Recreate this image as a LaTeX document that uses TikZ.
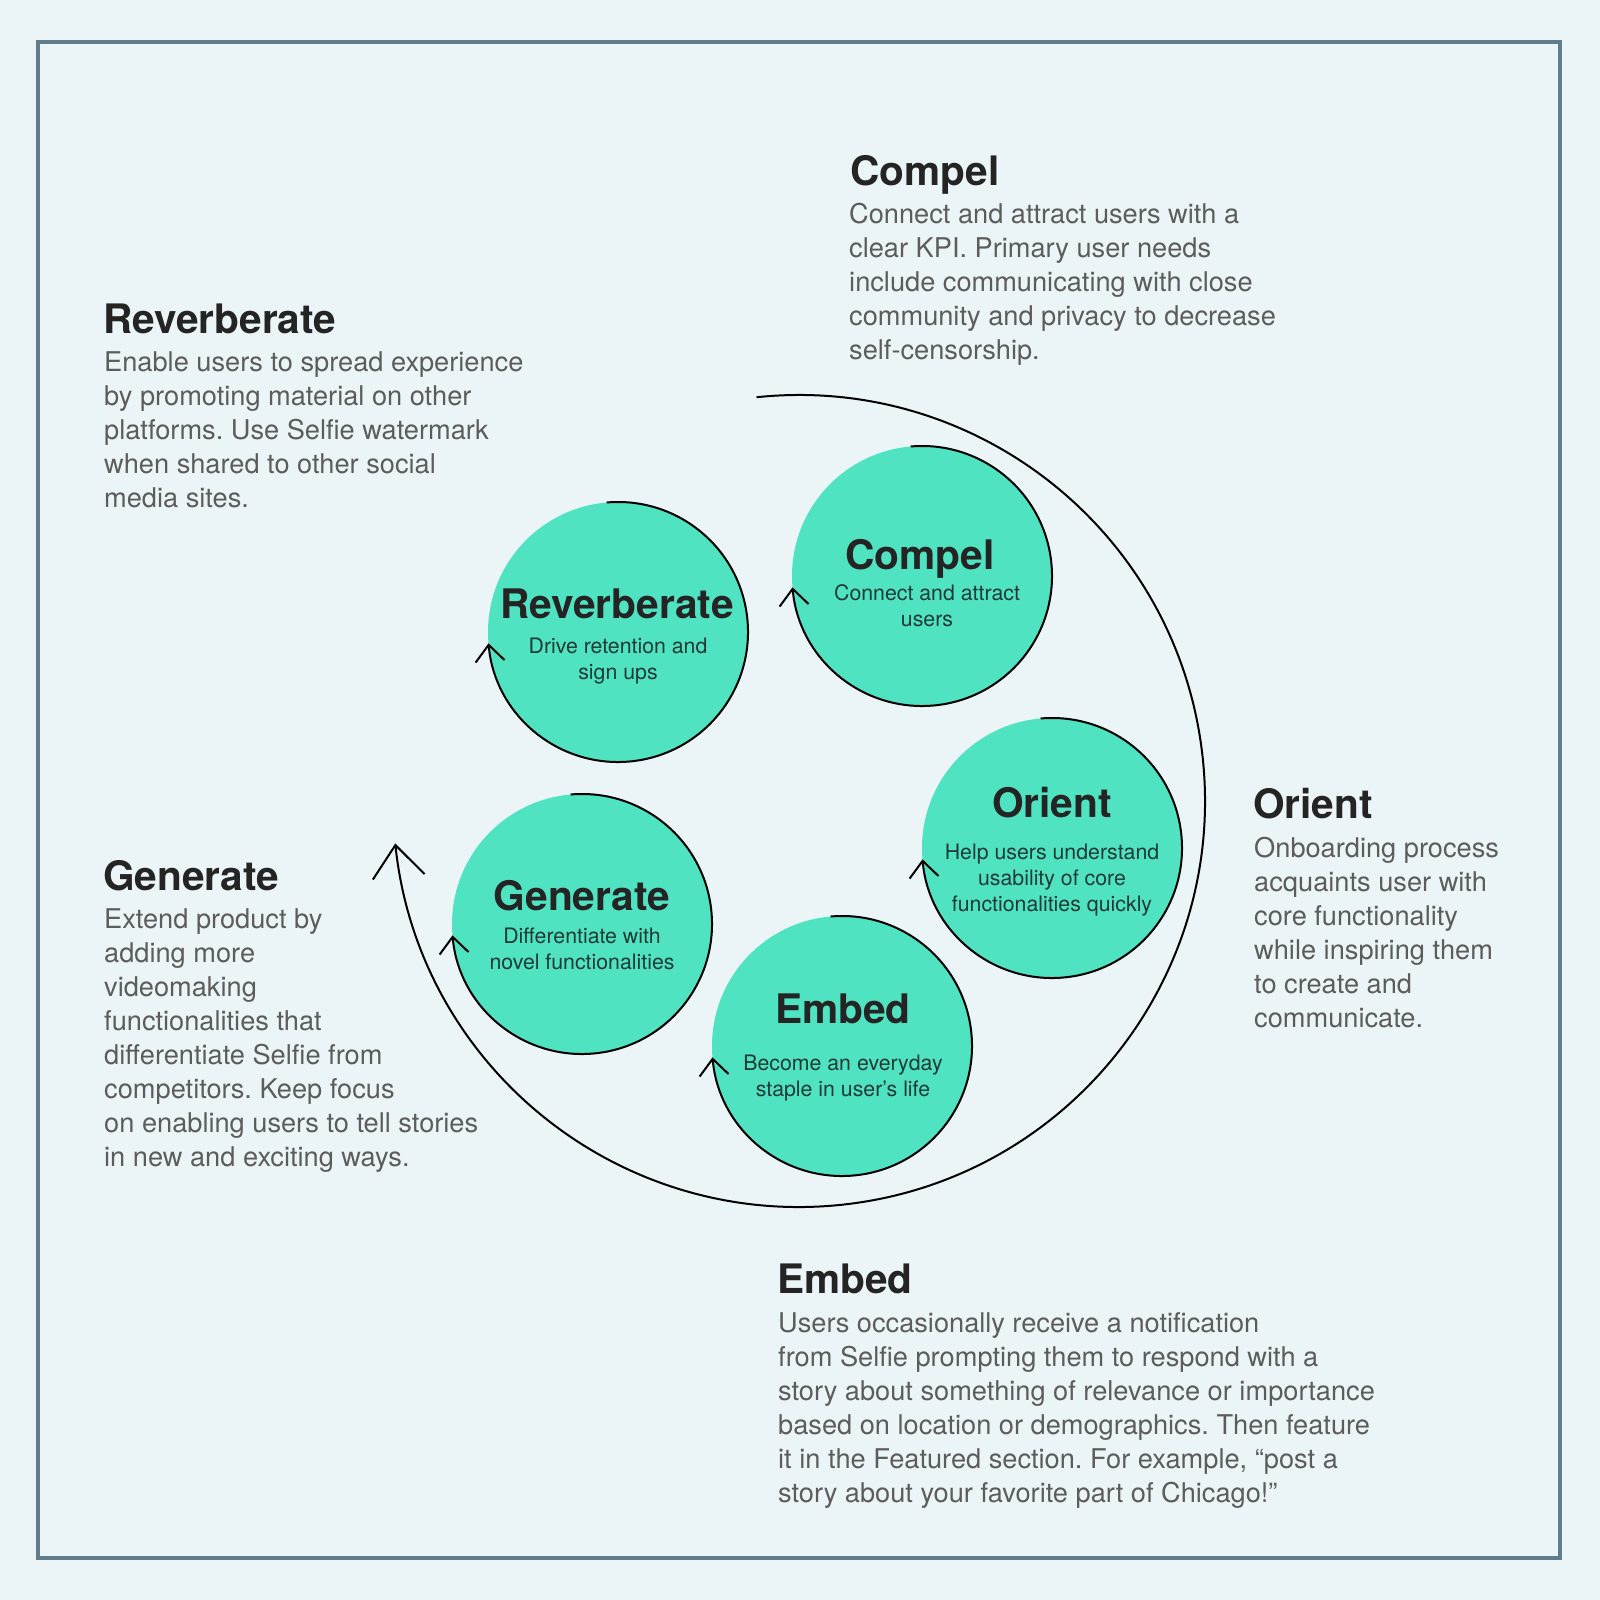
\documentclass[tikz,border=0pt]{standalone}
\usepackage{fontspec}
\setmainfont{TeX Gyre Heros}
\usetikzlibrary{arrows.meta}

\definecolor{bgpaper}{RGB}{235,244,247}
\definecolor{frameline}{RGB}{96,125,140}
\definecolor{mint}{RGB}{80,227,194}
\definecolor{ink}{RGB}{36,36,36}
\definecolor{prose}{RGB}{92,92,92}
\definecolor{deepteal}{RGB}{30,58,52}

\frenchspacing
\begin{document}
\begin{tikzpicture}[x=1pt,y=-1pt,
  stage/.style={circle, fill=mint, minimum size=260pt, inner sep=0pt, outer sep=0pt},
  ringarrow/.style={line width=2pt, draw=black, -{Straight Barb[length=16.5pt,width=29pt]}},
  bigring/.style={line width=2pt, draw=black, -{Straight Barb[length=32pt,width=52pt]}},
  stagetitle/.style={anchor=base, inner sep=0pt, text=ink, font=\fontsize{40.7}{48}\selectfont\bfseries},
  stagenote/.style={anchor=north, align=center, inner sep=0pt, text=deepteal, font=\fontsize{21.3}{26}\selectfont},
  sidetitle/.style={anchor=base west, inner sep=0pt, text=ink, font=\fontsize{40.6}{48}\selectfont\bfseries},
  sidenote/.style={anchor=north west, align=left, inner sep=0pt, text=prose, font=\fontsize{27.2}{34}\selectfont},
]
% page and frame
\useasboundingbox (0,0) rectangle (1600,1600);
\fill[bgpaper] (0,0) rectangle (1600,1600);
\draw[frameline, line width=4pt] (38,42) rectangle (1560,1558);

% stage discs
\node[stage] (reverb) at (618,632) {};
\node[stage] (compel) at (922,576) {};
\node[stage] (orient) at (1052,848) {};
\node[stage] (embed) at (842,1046) {};
\node[stage] (generate) at (582,924) {};
\coordinate (hub) at (799,801);

% three-quarter rings with arrowheads on each disc
\foreach \c in {reverb,compel,orient,embed,generate}{
  \draw[ringarrow] ([shift={(-95:130)}]\c.center) arc[start angle=-95, end angle=175, radius=130];
}

% large outer ring
\draw[bigring] ([shift={(-96:406)}]hub) arc[start angle=-96, end angle=174, radius=406];

% disc labels
\node[stagetitle] (reverbT) at (617,618) {Reverberate};
\node[stagenote] (reverbN) at (618,634.8) {\strut Drive retention and\\ sign ups};

\node[stagetitle] (compelT) at (920,569) {Compel};
\node[stagenote] (compelN) at (927,581.8) {\strut Connect and attract\\ users};

\node[stagetitle] (orientT) at (1052,817) {Orient};
\node[stagenote] (orientN) at (1052,840.8) {\strut Help users understand\\ usability of core\\ functionalities quickly};

\node[stagetitle] (embedT) at (843,1023) {Embed};
\node[stagenote] (embedN) at (843,1051.8) {\strut Become an everyday\\ staple in user’s life};

\node[stagetitle] (generateT) at (582,910) {Generate};
\node[stagenote] (generateN) at (582,924.8) {\strut Differentiate with\\ novel functionalities};

% side descriptions
\node[sidetitle] (compelH) at (850,185) {Compel};
\node[sidenote] (compelD) at (849,199.2) {\strut Connect and attract users with a\\ clear KPI. Primary user needs\\ include communicating with close\\ community and privacy to decrease\\ self-censorship.};

\node[sidetitle] (reverbH) at (103,333) {Reverberate};
\node[sidenote] (reverbD) at (104,347.2) {\strut Enable users to spread experience\\ by promoting material on other\\ platforms. Use Selfie watermark\\ when shared to other social\\ media sites.};

\node[sidetitle] (generateH) at (103,890) {Generate};
\node[sidenote] (generateD) at (104,904.2) {\strut Extend product by\\ adding more\\ videomaking\\ functionalities that\\ differentiate Selfie from\\ competitors. Keep focus\\ on enabling users to tell stories\\ in new and exciting ways.};

\node[sidetitle] (orientH) at (1253,818) {Orient};
\node[sidenote] (orientD) at (1254,833.2) {\strut Onboarding process\\ acquaints user with\\ core functionality\\ while inspiring them\\ to create and\\ communicate.};

\node[sidetitle] (embedH) at (777,1293) {Embed};
\node[sidenote] (embedD) at (778,1308.2) {\strut Users occasionally receive a notification\\ from Selfie prompting them to respond with a\\ story about something of relevance or importance\\ based on location or demographics. Then feature\\ it in the Featured section. For example, “post a\\ story about your favorite part of Chicago!”};
\end{tikzpicture}
\end{document}
